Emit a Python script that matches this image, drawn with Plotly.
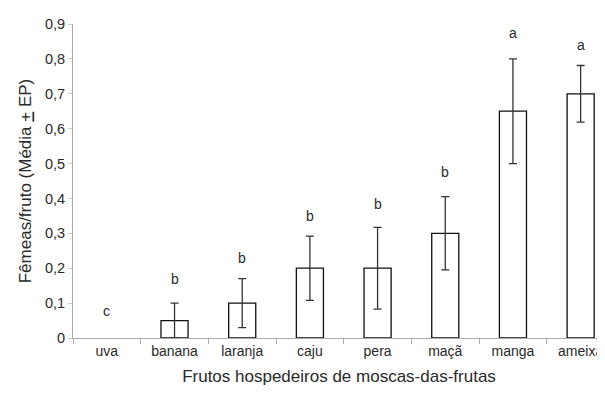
import plotly.graph_objects as go

categories = ["uva", "banana", "laranja", "caju", "pera", "maçã", "manga", "ameixa"]
means = [0, 0.05, 0.10, 0.20, 0.20, 0.30, 0.65, 0.70]
errors = [0, 0.05, 0.07, 0.092, 0.117, 0.105, 0.15, 0.081]
letters = ["c", "b", "b", "b", "b", "b", "a", "a"]
letter_y = [0.078, 0.168, 0.23, 0.35, 0.385, 0.475, 0.875, 0.84]
y_ticks = [0, 0.1, 0.2, 0.3, 0.4, 0.5, 0.6, 0.7, 0.8, 0.9]
y_tick_labels = ["0", "0,1", "0,2", "0,3", "0,4", "0,5", "0,6", "0,7", "0,8", "0,9"]

font = "Liberation Sans, Arial, sans-serif"
textcol = "#2a2a2a"

# zero-valued bars are not drawn (no visible bar in the original)
bar_y = [m if m > 0 else None for m in means]
bar_err = [e if m > 0 else None for m, e in zip(means, errors)]

fig = go.Figure()
fig.add_trace(go.Bar(
    x=categories, y=bar_y, width=0.4,
    marker=dict(color="white", line=dict(color="#111111", width=1.3)),
    error_y=dict(type="data", array=bar_err, visible=True, color="#333333",
                 thickness=1.3, width=4),
    showlegend=False,
))
for c, l, ly in zip(categories, letters, letter_y):
    fig.add_annotation(x=c, y=ly, text=l, showarrow=False, yanchor="middle",
                       font=dict(family=font, size=14, color=textcol))

fig.update_layout(
    width=605, height=387,
    margin=dict(l=65, r=8, t=8, b=57),
    paper_bgcolor="white", plot_bgcolor="white",
    font=dict(family=font, size=14, color=textcol),
    bargap=0.6,
)
fig.update_xaxes(
    type="category", range=[-0.5, 7.36], tickson="boundaries",
    ticks="outside", ticklen=5, tickcolor="#aaaaaa",
    showline=True, linecolor="#aaaaaa", linewidth=1, showgrid=False,
    tickfont=dict(size=14, color=textcol), ticklabeloverflow="allow",
    automargin=False,
    title=dict(text="Frutos hospedeiros de moscas-das-frutas",
               font=dict(size=17, color=textcol), standoff=12),
)
fig.update_yaxes(
    range=[0, 0.9], tickmode="array", tickvals=y_ticks, ticktext=y_tick_labels,
    ticks="outside", ticklen=4, tickcolor="#cccccc",
    showline=True, linecolor="#aaaaaa", linewidth=1, showgrid=False,
    zeroline=False, tickfont=dict(size=14.5, color=textcol),
    title=dict(text="Fêmeas/fruto (Média <u>+</u> EP)",
               font=dict(size=17, color=textcol), standoff=8),
)
fig.write_html("out.html")
